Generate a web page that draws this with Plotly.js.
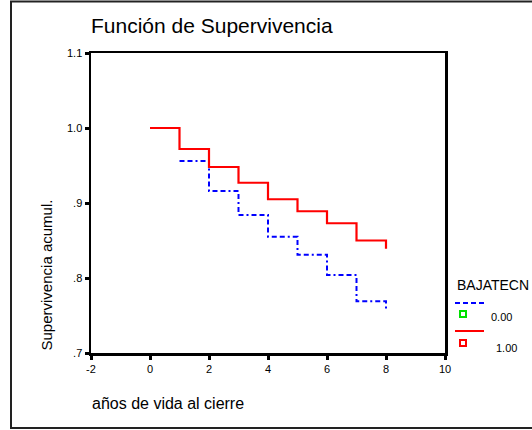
<!DOCTYPE html>
<html>
<head>
<meta charset="utf-8">
<script src="https://cdn.plot.ly/plotly-3.0.1.min.js"></script>
<style>html,body{margin:0;padding:0;background:#fff;}#chart{width:532px;height:430px;}</style>
</head>
<body>
<div id="chart"></div>
<script>
// Data
const groupNames = ['0.00', '1.00'];
const legendTitle = 'BAJATECN';
const timesGroup0 = [1, 2, 3, 4, 5, 6, 7, 8];
const survGroup0 = [0.956, 0.916, 0.884, 0.855, 0.831, 0.804, 0.769, 0.758];
const timesGroup1 = [0, 1, 2, 3, 4, 5, 6, 7, 8];
const survGroup1 = [1.0, 0.972, 0.948, 0.927, 0.905, 0.889, 0.873, 0.850, 0.839];
const yTickVals = [0.7, 0.8, 0.9, 1.0, 1.1];
const yTickText = ['.7', '.8', '.9', '1.0', '1.1'];
const xTickVals = [-2, 0, 2, 4, 6, 8, 10];
const xTickText = ['-2', '0', '2', '4', '6', '8', '10'];

const FONT = 'Arial, "Liberation Sans", sans-serif';

const traces = [
  {x: timesGroup0, y: survGroup0, name: groupNames[0], mode: 'lines',
   line: {shape: 'hv', color: '#0000ff', width: 2, dash: '5px,3px,5px,3px,2px,3px'}},
  {x: timesGroup1, y: survGroup1, name: groupNames[1], mode: 'lines',
   line: {shape: 'hv', color: '#ff0000', width: 2.2}}
];

// pixel helpers (plot area 91..445 x, 53..353 y)
const px = v => (v - 91) / 354;
const py = v => (353 - v) / 300;

const layout = {
  width: 532, height: 430,
  margin: {l: 91, r: 87, t: 53, b: 77},
  paper_bgcolor: '#fff', plot_bgcolor: '#fff',
  showlegend: false,
  font: {family: FONT, color: '#000'},
  title: {text: 'Función de Supervivencia', font: {family: FONT, size: 21, color: '#000'},
          xref: 'paper', x: 0, xanchor: 'left', yref: 'container', y: 1 - 26/430, yanchor: 'middle'},
  xaxis: {range: [-2, 10], tickvals: xTickVals, ticktext: xTickText, showgrid: false, zeroline: false,
          showline: true, linecolor: '#000', linewidth: 2.5, mirror: true,
          ticks: 'outside', ticklen: 4, tickwidth: 3, tickcolor: '#000',
          tickfont: {family: FONT, size: 11, color: '#000'}},
  yaxis: {range: [0.7, 1.1], tickvals: yTickVals, ticktext: yTickText, showgrid: false, zeroline: false,
          showline: true, linecolor: '#000', linewidth: 2.5, mirror: true,
          ticks: 'outside', ticklen: 4, tickwidth: 3, tickcolor: '#000',
          tickfont: {family: FONT, size: 11, color: '#000'}},
  shapes: [
    {type: 'rect', xref: 'paper', yref: 'paper', x0: px(11), x1: px(545), y0: py(428), y1: py(1.5),
     line: {color: '#222', width: 2}, fillcolor: 'rgba(0,0,0,0)'},
    {type: 'line', xref: 'paper', yref: 'paper', x0: px(455), x1: px(484), y0: py(303), y1: py(303),
     line: {color: '#0000ff', width: 2, dash: '5px,3px'}},
    {type: 'rect', xref: 'paper', yref: 'paper', x0: px(460), x1: px(466), y0: py(317), y1: py(311),
     line: {color: '#00e000', width: 2}, fillcolor: 'rgba(0,0,0,0)'},
    {type: 'line', xref: 'paper', yref: 'paper', x0: px(455), x1: px(484), y0: py(331), y1: py(331),
     line: {color: '#ff0000', width: 2}},
    {type: 'rect', xref: 'paper', yref: 'paper', x0: px(460), x1: px(466), y0: py(346), y1: py(340),
     line: {color: '#ff0000', width: 2}, fillcolor: 'rgba(0,0,0,0)'}
  ],
  annotations: [
    {text: 'Supervivencia acumul.', xref: 'paper', yref: 'paper', x: px(46), y: py(275.5),
     textangle: -90, showarrow: false, xanchor: 'center', yanchor: 'middle',
     font: {family: FONT, size: 15, color: '#000'}},
    {text: 'años de vida al cierre', xref: 'paper', yref: 'paper', x: px(89.5), y: py(403),
     showarrow: false, xanchor: 'left', yanchor: 'middle',
     font: {family: FONT, size: 16, color: '#000'}},
    {text: legendTitle, xref: 'paper', yref: 'paper', x: px(455), y: py(285),
     showarrow: false, xanchor: 'left', yanchor: 'middle',
     font: {family: FONT, size: 14, color: '#000'}},
    {text: groupNames[0], xref: 'paper', yref: 'paper', x: px(489), y: py(317),
     showarrow: false, xanchor: 'left', yanchor: 'middle',
     font: {family: FONT, size: 11, color: '#000'}},
    {text: groupNames[1], xref: 'paper', yref: 'paper', x: px(494), y: py(348),
     showarrow: false, xanchor: 'left', yanchor: 'middle',
     font: {family: FONT, size: 11, color: '#000'}}
  ]
};

Plotly.newPlot('chart', traces, layout, {staticPlot: true, displayModeBar: false});
</script>
</body>
</html>
